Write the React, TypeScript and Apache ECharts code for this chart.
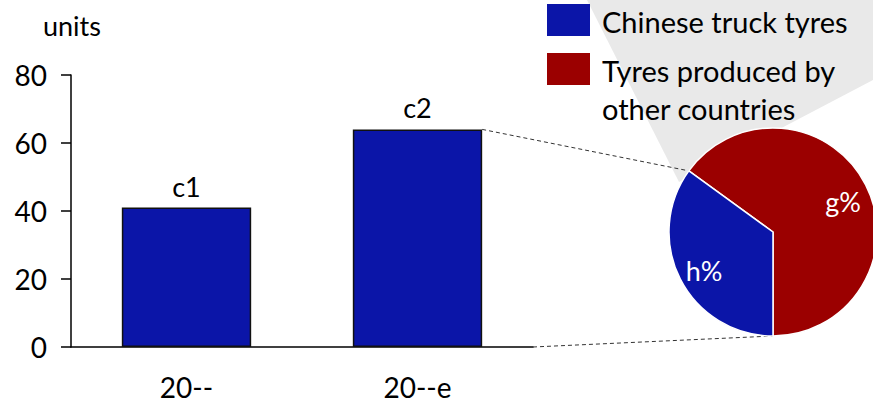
import React, { useEffect, useRef } from "react";
import * as echarts from "echarts";

const categories = ["20--", "20--e"];
const barValues = [41, 64];
const barLabels = ["c1", "c2"];
const sliceNames = ["Tyres produced by other countries", "Chinese truck tyres"];
const sliceValues = [65, 35];
const sliceLabels = ["g%", "h%"];
const legendLabels = ["Chinese truck tyres", "Tyres produced by\nother countries"];
const unitLabel = "units";

const BLUE = "#0b15a8";
const RED = "#9b0000";
const FONT = "Lato";

export default function App() {
  const ref = useRef<HTMLDivElement>(null);
  useEffect(() => {
    if (!ref.current) return;
    const chart = echarts.init(ref.current, undefined, { renderer: "svg" });
    const pieCenter = [773, 232];
    const pieR = 104;
    const startAngle = 144;
    const option: any = {
      animation: false,
      backgroundColor: "#ffffff",
      title: {
        text: unitLabel,
        left: 38,
        top: 7,
        textStyle: { fontFamily: FONT, fontSize: 27, fontWeight: "normal", color: "#000" },
      },
      grid: { left: 71, right: 340, top: 75, bottom: 56, containLabel: false },
      xAxis: {
        type: "category",
        data: categories,
        axisLine: { lineStyle: { color: "#000", width: 1.5 } },
        axisTick: { show: false },
        axisLabel: { fontFamily: FONT, fontSize: 28, color: "#000", margin: 26 },
      },
      yAxis: {
        type: "value",
        min: 0,
        max: 80,
        interval: 20,
        splitLine: { show: false },
        axisLine: { show: true, lineStyle: { color: "#000", width: 1.5 } },
        axisTick: { show: true, length: 10, lineStyle: { color: "#000", width: 1.5 } },
        axisLabel: { fontFamily: FONT, fontSize: 28, color: "#000", margin: 24 },
      },
      graphic: [],
      series: [
        {
          type: "bar",
          barWidth: "56%",
          data: barValues.map((v, i) => ({
            value: v,
            label: { formatter: barLabels[i] },
          })),
          itemStyle: { color: BLUE, borderColor: "#111", borderWidth: 1.5 },
          label: {
            show: true,
            position: "top",
            distance: 8,
            fontFamily: FONT,
            fontSize: 27,
            color: "#000",
          },
          z: 3,
        },
        {
          type: "pie",
          center: pieCenter,
          radius: [0, pieR],
          startAngle,
          clockwise: true,
          label: {
            show: true,
            position: "inside",
            fontFamily: FONT,
            fontSize: 27,
            color: "#fff",
          },
          labelLine: { show: false },
          itemStyle: { borderColor: "#fff", borderWidth: 1.5 },
          data: sliceValues.map((v, i) => ({
            name: sliceNames[i],
            value: v,
            itemStyle: { color: i === 0 ? RED : BLUE },
            label: { formatter: sliceLabels[i], offset: i === 0 ? [21, -6] : [-20, 14] },
          })),
          z: 3,
        },
      ],
    };
    chart.setOption(option);

    // connectors computed from the chart's own scales
    const p0 = chart.convertToPixel({ xAxisIndex: 0, yAxisIndex: 0 } as any, [0, 0]) as number[];
    const p1 = chart.convertToPixel({ xAxisIndex: 0, yAxisIndex: 0 } as any, [1, barValues[1]]) as number[];
    const band = p1[0] - p0[0];
    const barRight = p1[0] + band * 0.28;
    const axisEndX = p0[0] + band * 1.5;
    const a = (startAngle * Math.PI) / 180;
    const pieTop = [pieCenter[0] + pieR * Math.cos(a), pieCenter[1] - pieR * Math.sin(a)];
    const pieBottom = [pieCenter[0], pieCenter[1] + pieR];
    const dashStyle = { stroke: "#333", lineWidth: 1, lineDash: [4, 3] };

    const graphics: any[] = [
      {
        type: "polygon",
        shape: { points: [[587, 0], [679, 182], [873, 80], [873, 0]] },
        style: { fill: "#e9e9e9" },
        z: -10,
        silent: true,
      },
      {
        type: "line",
        shape: { x1: barRight, y1: p1[1], x2: pieTop[0], y2: pieTop[1] },
        style: dashStyle,
        z: 2,
      },
      {
        type: "line",
        shape: { x1: axisEndX, y1: p0[1], x2: pieBottom[0], y2: pieBottom[1] },
        style: dashStyle,
        z: 2,
      },
    ];
    const legendColors = [BLUE, RED];
    legendLabels.forEach((t, i) => {
      graphics.push({
        type: "rect",
        shape: { x: 547, y: 4 + i * 49, width: 43, height: 32 },
        style: { fill: legendColors[i] },
        z: 5,
      });
      graphics.push({
        type: "text",
        x: 602,
        y: 2 + i * 49,
        style: {
          text: t,
          fontFamily: FONT,
          fontSize: 29,
          lineHeight: 38,
          fill: "#000",
          verticalAlign: "top",
        },
        z: 5,
      });
    });
    chart.setOption({ graphic: graphics });
    return () => chart.dispose();
  }, []);
  return (
    <div
      ref={ref}
      style={{ position: "fixed", left: 0, top: 0, width: 873, height: 403 }}
    />
  );
}
